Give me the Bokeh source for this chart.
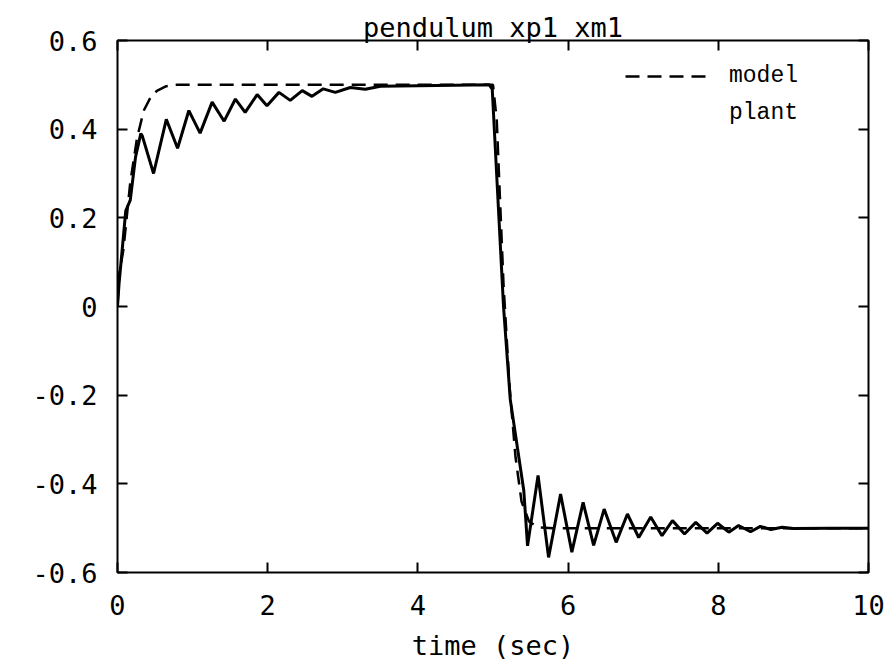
from bokeh.plotting import figure
from bokeh.models import LinearAxis, FixedTicker, Legend, LegendItem, Range1d
from bokeh.embed import file_html
from bokeh.resources import INLINE

# ---- data ----
t_plant = [0.00, 0.02, 0.11, 0.17, 0.24, 0.31, 0.33, 0.48, 0.65, 0.80, 0.95, 1.10,
           1.26, 1.42, 1.57, 1.70, 1.86, 1.99, 2.15, 2.30, 2.46, 2.59, 2.74, 2.90,
           3.10, 3.30, 3.50, 4.00, 4.50, 4.95, 4.99, 5.14, 5.23, 5.30, 5.41, 5.46,
           5.60, 5.74, 5.90, 6.05, 6.20, 6.34, 6.48, 6.64, 6.79, 6.94, 7.10, 7.25,
           7.39, 7.55, 7.70, 7.85, 7.99, 8.14, 8.27, 8.43, 8.56, 8.70, 8.85, 9.00,
           9.50, 10.00]
y_plant = [0.000, 0.050, 0.216, 0.240, 0.337, 0.390, 0.385, 0.300, 0.422, 0.357, 0.442, 0.391,
           0.461, 0.418, 0.468, 0.438, 0.478, 0.453, 0.483, 0.465, 0.487, 0.474, 0.491, 0.483,
           0.494, 0.490, 0.497, 0.498, 0.499, 0.500, 0.490, 0.000, -0.210, -0.290, -0.415, -0.540,
           -0.381, -0.566, -0.423, -0.554, -0.442, -0.539, -0.457, -0.532, -0.468, -0.521, -0.475, -0.517,
           -0.483, -0.513, -0.487, -0.511, -0.489, -0.509, -0.494, -0.508, -0.496, -0.503, -0.498, -0.501,
           -0.500, -0.500]

t_model = [0.00, 0.02, 0.08, 0.17, 0.26, 0.35, 0.45, 0.53, 0.65, 0.79, 5.00, 5.05,
           5.14, 5.22, 5.30, 5.38, 5.48, 5.60, 5.80, 10.00]
y_model = [0.000, 0.070, 0.130, 0.280, 0.380, 0.442, 0.475, 0.487, 0.497, 0.500, 0.500, 0.420,
           0.050, -0.180, -0.340, -0.440, -0.485, -0.498, -0.500, -0.500]

x_ticks = [0, 2, 4, 6, 8, 10]
y_ticks = [-0.6, -0.4, -0.2, 0, 0.2, 0.4, 0.6]
y_tick_labels = {-0.6: "-0.6", -0.4: "-0.4", -0.2: "-0.2", 0: "0", 0.2: "0.2", 0.4: "0.4", 0.6: "0.6"}

FONT = "DejaVu Sans Mono"

p = figure(width=891, height=667, output_backend="svg", toolbar_location=None,
           x_range=Range1d(0, 10), y_range=Range1d(-0.6, 0.6),
           x_axis_location=None, y_axis_location=None,
           min_border_left=117, min_border_right=23, min_border_top=40, min_border_bottom=95)

p.title.text = "pendulum xp1 xm1"
p.title.align = "center"
p.title.text_font = FONT
p.title.text_font_size = "27px"
p.title.text_font_style = "normal"
p.title.text_color = "black"
p.title.standoff = -5

p.xgrid.visible = False
p.ygrid.visible = False
p.outline_line_color = "black"
p.outline_line_width = 2
p.background_fill_color = "white"
p.border_fill_color = "white"

def style_axis(ax, labels=True):
    ax.axis_line_color = None
    ax.major_tick_in = 10
    ax.major_tick_out = 0
    ax.major_tick_line_width = 2
    ax.major_tick_line_color = "black"
    ax.minor_tick_line_color = None
    ax.major_label_text_font = FONT
    ax.major_label_text_font_size = "27px"
    ax.major_label_text_color = "black"
    ax.axis_label_text_font = FONT
    ax.axis_label_text_font_size = "27px"
    ax.axis_label_text_font_style = "normal"
    ax.axis_label_text_color = "black"
    if not labels:
        ax.major_label_text_font_size = "0px"
        ax.major_label_text_alpha = 0

xb = LinearAxis(ticker=FixedTicker(ticks=x_ticks), axis_label="time (sec)")
style_axis(xb)
xb.major_label_standoff = 22
xb.axis_label_standoff = 12
p.add_layout(xb, "below")

yl = LinearAxis(ticker=FixedTicker(ticks=y_ticks))
style_axis(yl)
yl.major_label_overrides = y_tick_labels
yl.major_label_standoff = 20
p.add_layout(yl, "left")

xt = LinearAxis(ticker=FixedTicker(ticks=x_ticks))
style_axis(xt, labels=False)
p.add_layout(xt, "above")

yr = LinearAxis(ticker=FixedTicker(ticks=y_ticks))
style_axis(yr, labels=False)
p.add_layout(yr, "right")

r_model = p.line(t_model, y_model, line_color="black", line_width=2.5, line_dash="14 8")
r_plant = p.line(t_plant, y_plant, line_color="black", line_width=3)
r_plant_key = p.line([], [], line_color="black", line_alpha=0)

legend = Legend(items=[LegendItem(label="model", renderers=[r_model]),
                       LegendItem(label="plant", renderers=[r_plant_key])],
                location=(508, 446), padding=0, margin=0, spacing=11,
                glyph_width=82, glyph_height=22, label_height=22, label_standoff=22,
                label_text_font="Liberation Mono", label_text_font_size="23px",
                label_text_color="black",
                border_line_alpha=0, background_fill_alpha=0)
p.add_layout(legend, "center")

open("out.html", "w").write(file_html(p, INLINE))
